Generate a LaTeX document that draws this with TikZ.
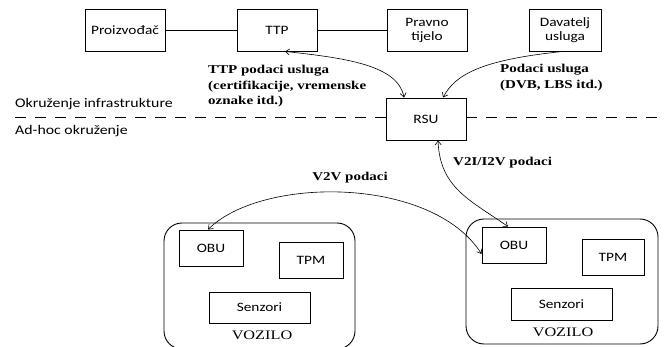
\documentclass[tikz,border=0pt]{standalone}
\usepackage{fontspec}
\usetikzlibrary{arrows.meta}
\newfontfamily\boxfont[FakeStretch=1.2]{Carlito}
\newfontfamily\labfont[FakeStretch=1.25]{Liberation Serif}
\begin{document}
\begin{tikzpicture}[x=1pt,y=-1pt,
  box/.style={draw,line width=0.9pt,inner sep=0pt,font=\boxfont\fontsize{12.8}{14}\selectfont,align=center},
  veh/.style={draw,line width=0.9pt,rounded corners=18pt},
  lab/.style={inner sep=0pt,font=\labfont\bfseries\fontsize{12}{15.5}\selectfont},
  side/.style={inner sep=0pt,anchor=west,font=\boxfont\fontsize{13.2}{14}\selectfont},
  vlab/.style={inner sep=0pt,font=\labfont\fontsize{13}{14}\selectfont},
  link/.style={line width=0.6pt},
  arr/.style={line width=0.6pt,{Straight Barb[length=4pt,width=6pt]}-{Straight Barb[length=4pt,width=6pt]}},
  arrend/.style={line width=0.6pt,-{Straight Barb[length=4pt,width=6pt]}},
  sepline/.style={line width=0.9pt,dash pattern=on 11pt off 9pt}]
\useasboundingbox (0,0) rectangle (667,347);
% top row
\node[box,minimum width=80pt,minimum height=42pt] (proiz) at (125,30) {Proizvođač};
\node[box,minimum width=80pt,minimum height=42pt] (ttp) at (277,30) {TTP};
\node[box,minimum width=80pt,minimum height=42pt] (pravno) at (427,30) {Pravno\\tijelo};
\node[box,minimum width=72pt,minimum height=42pt] (davatelj) at (565,30) {Davatelj\\usluga};
\draw[link] (proiz) -- (ttp);
\draw[link] (ttp) -- (pravno);
% RSU
\node[box,minimum width=80pt,minimum height=42pt] (rsu) at (426,119) {RSU};
% dashed separator
\coordinate (dl) at (15,117);
\coordinate (dr) at (662,117);
\draw[sepline] (dl) -- (rsu.west |- dl);
\draw[sepline] (rsu.east |- dr) -- (dr);
\node[side] (infra) at (15,104) {Okruženje infrastrukture};
\node[side] (adhoc) at (15,131) {Ad-hoc okruženje};
% labels
\node[lab,anchor=north west,align=left] (ttplab) at (208,65) {TTP podaci usluga\\(certifikacije, vremenske\\oznake itd.)};
\node[lab,anchor=north west,align=left] (podlab) at (500,64) {Podaci usluga\\(DVB, LBS itd.)};
% vehicles
\draw[veh] (164,223) rectangle (355,349);
\draw[veh] (466,219) rectangle (658,344);
\node[box,minimum width=64pt,minimum height=36pt] (obuL) at (211,248) {OBU};
\node[box,minimum width=64pt,minimum height=36pt] (tpmL) at (311,260) {TPM};
\node[box,minimum width=101pt,minimum height=31pt] (senL) at (259.5,307.5) {Senzori};
\node[vlab] (vozL) at (262,335) {VOZILO};
\node[box,minimum width=64pt,minimum height=36pt] (obuR) at (514,245) {OBU};
\node[box,minimum width=62pt,minimum height=36pt] (tpmR) at (613,257) {TPM};
\node[box,minimum width=101pt,minimum height=32pt] (senR) at (561.5,304) {Senzori};
\node[vlab] (vozR) at (563,332) {VOZILO};
% connectors
\draw[arr] ([xshift=8pt]ttp.south) .. controls (345,58) and (398,65) .. ([xshift=-22pt]rsu.north);
\draw[arrend] ([xshift=-2pt]davatelj.south) .. controls (480,60) and (455,75) .. ([xshift=17pt]rsu.north);
\draw[arr] ([xshift=12pt]rsu.south) .. controls (440,188) and (470,200) .. ([xshift=-6pt]obuR.north);
\draw[arr] ([xshift=-3pt]obuL.north) .. controls (262,176) and (432,176) .. ([yshift=-9pt]obuR.west);
\node[lab,anchor=west] (v2ilab) at (453,163) {V2I/I2V podaci};
\node[lab] (v2vlab) at (350,178) {V2V podaci};
\end{tikzpicture}
\end{document}
